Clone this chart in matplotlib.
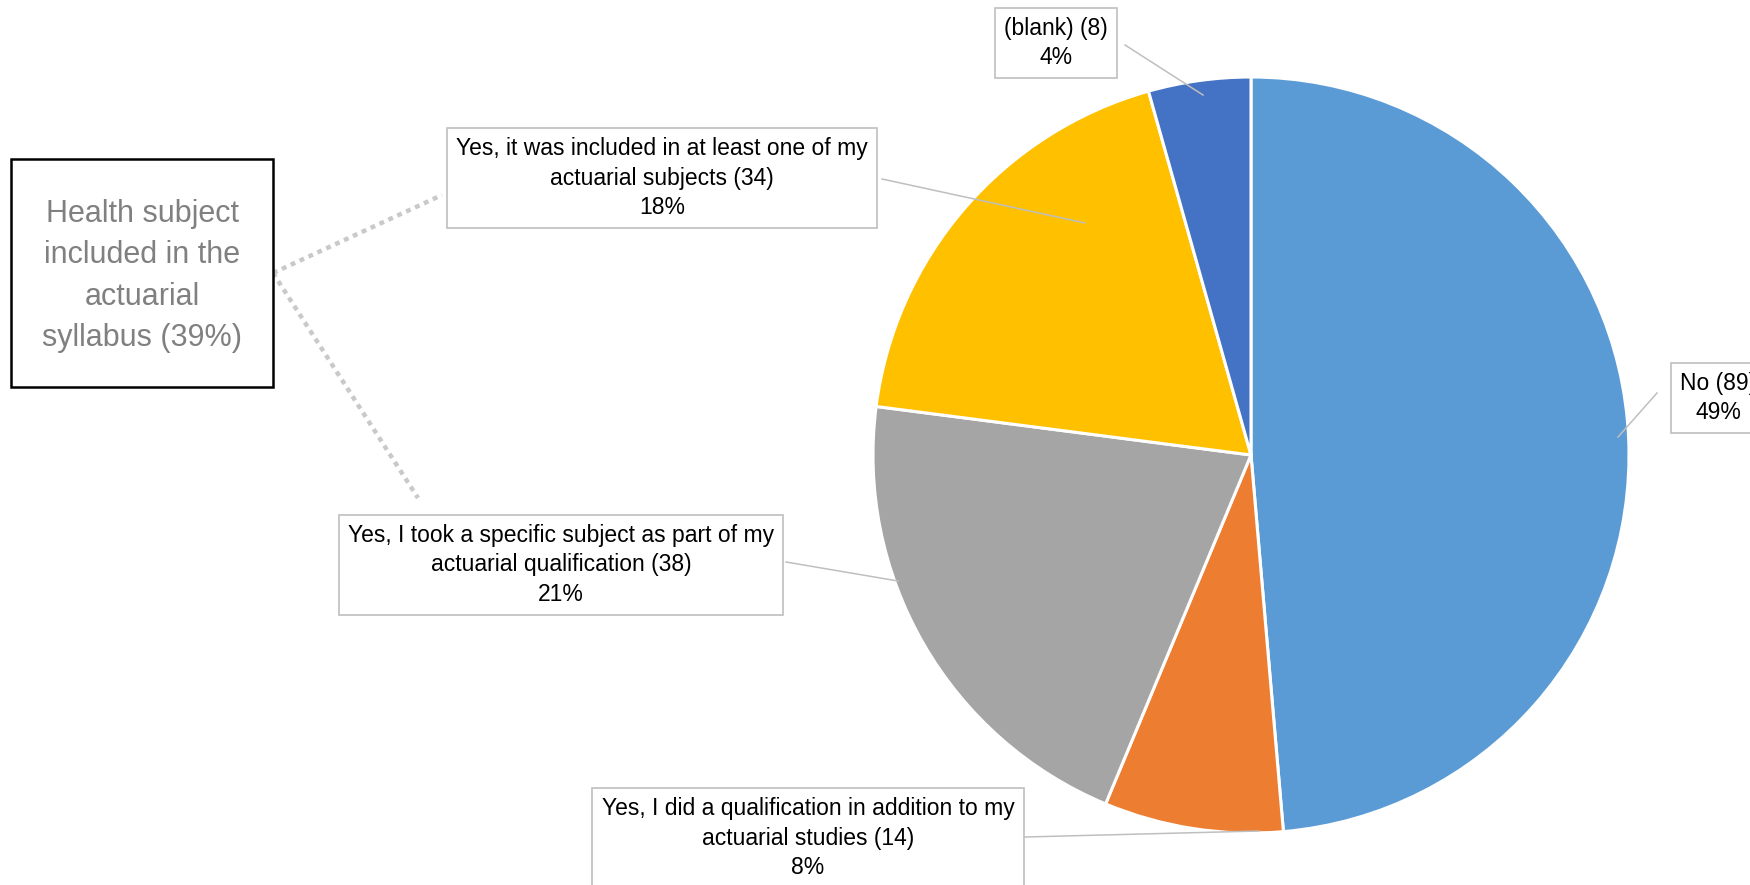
"""Pie chart: whether health was part of the actuarial syllabus."""

import matplotlib

matplotlib.use("Agg")
import matplotlib.pyplot as plt
from matplotlib.patches import Rectangle

W, H = 1750, 885

CATEGORIES = [
    "No",
    "Yes, I did a qualification in addition to my\nactuarial studies",
    "Yes, I took a specific subject as part of my\nactuarial qualification",
    "Yes, it was included in at least one of my\nactuarial subjects",
    "(blank)",
]
COUNTS = [89, 14, 38, 34, 8]
PCT_LABELS = ["49%", "8%", "21%", "18%", "4%"]
COLORS = ["#5B9BD5", "#ED7D31", "#A5A5A5", "#FFC000", "#4472C4"]
CALLOUT = "Health subject\nincluded in the\nactuarial\nsyllabus (39%)"

# label centre and leader line (pixel coords, measured from the top)
LABEL_POS = [(1718, 398), (808, 838), (561, 565), (662, 178), (1056, 43)]
LEADERS = [
    ((1657, 393), (1618, 437)),
    ((1025, 837), (1259, 831)),
    ((786, 562), (898, 581)),
    ((882, 179), (1085, 223)),
    ((1125, 45), (1203, 95)),
]

FONT = ["Liberation Sans Narrow", "Liberation Sans", "DejaVu Sans"]


def _y(y):
    return H - y


fig = plt.figure(figsize=(W / 100, H / 100), dpi=100)
ax = fig.add_axes([0, 0, 1, 1])

ax.pie(
    COUNTS,
    colors=COLORS,
    startangle=90,
    counterclock=False,
    center=(1251, _y(455)),
    radius=378,
    wedgeprops=dict(edgecolor="white", linewidth=2.2),
)
ax.set_xlim(0, W)
ax.set_ylim(0, H)
ax.set_aspect("equal")
ax.axis("off")

for cat, n, pct, (x, y), (p0, p1) in zip(CATEGORIES, COUNTS, PCT_LABELS, LABEL_POS, LEADERS):
    ax.plot([p0[0], p1[0]], [_y(p0[1]), _y(p1[1])], color="#BFBFBF", lw=1.1, zorder=3)
    ax.text(
        x, _y(y), f"{cat} ({n})\n{pct}",
        ha="center", va="center", fontsize=16.5, family=FONT, linespacing=1.35,
        bbox=dict(boxstyle="square,pad=0.4", fc="white", ec="#BFBFBF", lw=1.2),
        zorder=4,
    )

# callout grouping the three "Yes" answers
for end in [(442, 195), (418, 498)]:
    ax.plot([273, end[0]], [_y(273), _y(end[1])], color="#C9C9C9", lw=3.2,
            linestyle=(0, (1.1, 1.1)), dash_capstyle="butt", zorder=2)
ax.add_patch(Rectangle((11, _y(387)), 262, 228, fc="white", ec="black", lw=1.8, zorder=3))
ax.text(142, _y(276), CALLOUT, ha="center", va="center", fontsize=22, family=FONT,
        color="#808080", linespacing=1.5, zorder=4)

fig.savefig("out.png", dpi=100)
